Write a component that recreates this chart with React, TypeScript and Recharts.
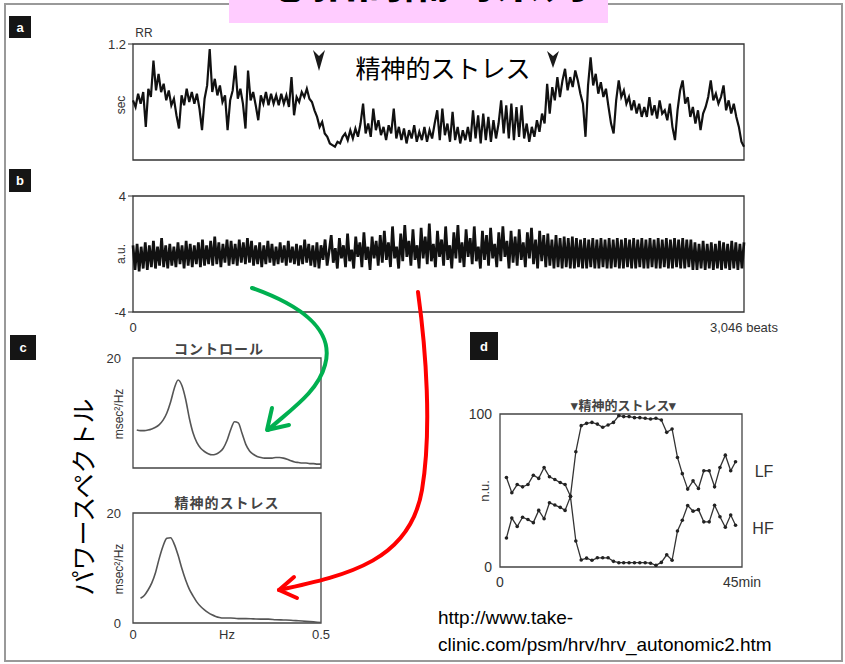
import React from 'react';
import { LineChart, Line, XAxis, YAxis, ReferenceArea } from 'recharts';

// ---- Panel a: RR interval (sec), 3,046 beats, sampled ----
const rrValues = [
  0.86,0.82,0.90,0.84,0.91,0.70,0.93,0.88,1.10,0.92,
  1.02,0.91,0.96,0.86,0.92,0.83,0.87,0.77,0.69,0.89,
  0.83,0.93,0.85,0.91,0.84,0.90,0.81,0.68,0.87,0.95,
  1.17,0.91,0.99,0.89,0.95,0.85,0.89,0.68,0.86,0.92,
  1.07,0.87,0.93,0.84,0.69,1.04,0.86,0.91,0.83,0.74,
  0.89,0.84,0.91,0.83,0.90,0.84,0.89,0.83,0.90,0.84,
  0.89,0.82,1.00,0.77,0.88,0.85,0.91,0.88,0.93,0.87,
  0.85,0.80,0.76,0.70,0.73,0.66,0.64,0.60,0.59,0.58,
  0.61,0.60,0.64,0.66,0.62,0.68,0.63,0.69,0.64,0.72,
  0.84,0.66,0.72,0.64,0.81,0.68,0.74,0.65,0.70,0.62,
  0.71,0.66,0.81,0.63,0.70,0.62,0.69,0.60,0.68,0.63,
  0.71,0.61,0.67,0.62,0.70,0.61,0.68,0.63,0.72,0.80,
  0.62,0.81,0.65,0.72,0.61,0.79,0.62,0.70,0.60,0.68,
  0.62,0.70,0.61,0.80,0.63,0.77,0.60,0.78,0.62,0.76,
  0.61,0.74,0.63,0.72,0.86,0.66,0.83,0.63,0.84,0.62,
  0.82,0.64,0.83,0.63,0.72,0.61,0.70,0.64,0.74,0.67,
  0.78,0.72,0.96,0.78,0.94,0.86,1.00,0.88,0.98,1.05,
  0.92,1.00,0.94,1.04,0.98,0.90,0.84,0.64,0.95,1.12,
  0.95,1.02,0.90,0.97,0.88,0.93,0.82,0.72,0.66,0.86,
  0.98,0.88,0.92,0.84,0.88,0.80,0.86,0.78,0.84,0.76,
  0.82,0.76,0.88,0.77,0.83,0.75,0.86,0.78,0.80,0.74,
  0.84,0.70,0.62,0.80,0.92,0.98,0.84,0.88,0.76,0.82,
  0.72,0.80,0.68,0.78,0.82,0.88,0.98,0.86,0.90,0.84,
  0.88,0.95,0.80,0.86,0.78,0.84,0.76,0.70,0.61,0.58,
];
const rrTicks = [0.5, 1.2];

// ---- Panel b: band-passed component (a.u.) ----
const bandValues = [
  0.6,-1.1,0.7,-1.2,0.5,-1.0,0.8,-1.1,0.6,-0.9,
  0.9,-1.0,0.5,-0.8,1.1,-0.9,0.6,-1.0,0.7,-0.8,
  0.5,-0.9,0.8,-0.7,0.6,-1.0,0.9,-0.8,0.7,-0.9,
  0.6,-0.7,0.8,-0.9,1.0,-0.8,0.6,-0.7,0.9,-0.8,
  1.2,-0.7,0.8,-0.9,0.7,-0.6,1.0,-0.8,0.9,-0.7,
  0.7,-0.8,1.0,-0.6,0.8,-0.7,1.1,-0.6,0.9,-0.8,
  0.6,-0.7,0.8,-0.9,0.6,-0.7,0.9,-0.6,0.7,-0.8,
  0.5,-0.7,0.8,-0.6,0.6,-0.8,0.9,-0.6,0.5,-0.7,
  0.7,-0.8,0.6,-0.7,1.0,-0.6,0.7,-0.8,0.6,-0.9,
  0.8,-1.0,0.6,
  -0.4,1.0,-0.8,0.2,1.3,-0.6,0.4,-1.0,1.1,-0.3,
  0.6,-0.9,1.4,-0.5,0.3,-1.0,1.2,-0.2,0.8,-0.9,
  1.5,-0.4,0.5,-1.1,1.2,-0.3,0.9,-0.8,1.3,
  -0.6,1.6,-0.4,0.8,-0.9,1.9,-0.3,0.5,-1.0,1.4,
  -0.5,2.0,-0.2,0.9,-0.8,1.7,-0.4,0.6,-1.0,1.8,
  -0.3,1.2,-0.7,2.1,-0.5,0.7,-0.9,1.6,-0.2,1.0,
  -0.8,1.9,-0.4,0.6,-1.0,1.5,-0.3,2.0,-0.6,0.8,
  -0.9,1.7,-0.2,1.1,-0.7,1.9,-0.5,0.5,-1.0,1.6,
  -0.4,1.3,-0.8,1.8,-0.3,0.7,-0.9,1.5,-0.5,1.9,
  -0.2,0.9,-1.0,1.6,-0.6,1.2,-0.8,1.7,-0.4,0.8,
  -0.9,1.5,-0.3,1.8,-0.7,1.0,-1.0,1.6,-0.5,1.3,-0.9,
  1.4,-0.8,1.0,-1.0,1.3,-0.9,1.1,-1.0,1.2,-0.9,1.1,-1.0,1.2,
  -1.0,1.1,-0.9,1.0,-1.0,1.1,-1.0,1.0,-0.9,1.1,
  -1.0,1.0,-1.0,1.1,-0.9,1.0,-1.0,1.1,-1.0,1.0,
  -0.9,1.1,-1.0,1.0,-1.0,1.1,-0.9,1.0,-1.0,1.1,
  -1.0,1.0,-0.9,1.1,-1.0,1.0,-1.0,1.1,-0.9,1.0,
  -1.0,1.1,-1.0,1.0,-0.9,1.1,-1.0,1.0,-1.0,1.1,
  -0.9,1.0,-1.0,1.1,-1.0,1.0,-0.9,1.0,-1.1,
  0.8,-1.1,0.7,-1.0,0.9,-1.1,0.7,-1.0,0.8,-1.1,
  0.7,-1.0,0.9,-1.1,0.8,-1.0,0.7,-1.1,0.9,-1.0,
  0.8,-1.1,0.7,-1.0,0.8,
];
const bandTicks = [-4, 4];
const beatsLabels = ['0', '3,046 beats'];

// ---- Panel c: power spectra ----
const controlHz = [
  0.01,0.02,0.03,0.04,0.05,0.06,0.07,0.08,0.09,0.10,
  0.11,0.12,0.13,0.14,0.15,0.16,0.17,0.18,0.19,0.20,
  0.21,0.22,0.23,0.24,0.25,0.26,0.27,0.28,0.29,0.30,
  0.31,0.32,0.33,0.34,0.35,0.36,0.37,0.38,0.39,0.40,
  0.41,0.42,0.43,0.44,0.45,0.46,0.47,0.48,0.49,0.50,
];
const controlPower = [
  6.9,6.8,6.8,6.9,7.1,7.4,7.9,8.7,10.0,12.0,
  14.5,16.0,15.0,12.5,9.0,6.3,4.6,3.6,3.0,2.6,
  2.4,2.5,2.9,3.6,5.0,7.0,8.4,8.2,6.3,4.3,
  3.1,2.5,2.1,1.9,1.8,1.8,1.8,1.9,1.9,1.8,
  1.6,1.3,1.1,1.0,0.9,0.9,0.8,0.8,0.7,0.7,
];
const stressHz = [
  0.02,0.03,0.04,0.05,0.06,0.07,0.08,0.09,0.10,0.11,
  0.12,0.13,0.14,0.15,0.16,0.17,0.18,0.19,0.20,0.21,
  0.22,0.23,0.24,0.25,0.26,0.28,0.30,0.32,0.34,0.36,
  0.38,0.40,0.42,0.44,0.46,0.48,0.50,
];
const stressPower = [
  4.5,5.0,6.0,7.3,9.2,11.8,14.0,15.4,15.5,14.3,
  12.3,9.9,7.8,6.1,4.9,3.8,3.0,2.4,1.9,1.5,
  1.2,1.0,0.9,0.9,0.9,0.8,0.8,0.75,0.7,0.7,
  0.6,0.55,0.5,0.4,0.3,0.2,0.1,
];
const spectrumYTicks = [0, 20];
const spectrumXTicks = [0, 0.25, 0.5];
const spectrumXLabels = ['0', 'Hz', '0.5'];

// ---- Panel d: LF / HF normalized units over 45 min ----
const ratioMinutes = [
  1.2,2.2,3.2,4.2,5.2,6.2,7.2,8.2,9.2,10.2,
  11.2,12.1,13.1,14.1,15.1,16.1,17.1,18.1,19.1,20.1,
  21.1,22.1,23.0,24.0,25.0,26.0,27.0,28.0,29.0,30.0,
  31.0,32.0,33.0,33.9,34.9,35.9,36.9,37.9,38.9,39.9,
  40.9,41.9,42.9,43.8,
];
const lfValues = [
  58.5,48.5,53.9,52.4,53.9,60.0,57.9,65.0,59.0,57.2,
  55.2,53.9,46.3,75.3,92.4,93.9,94.5,93.4,91.3,92.8,
  94.5,98.9,98.3,98.3,97.6,97.6,97.2,96.7,97.2,96.1,
  88.0,90.2,71.6,61.0,50.9,56.3,51.3,62.9,62.9,52.4,
  65.0,73.1,62.9,68.8,
];
const hfValues = [
  19.0,32.0,26.5,32.5,31.0,29.0,37.0,31.5,42.0,40.5,
  39.0,37.0,46.0,17.0,4.6,5.8,4.4,6.0,6.0,6.0,
  3.7,2.8,2.8,2.8,2.8,2.8,2.8,2.5,1.1,3.0,
  8.0,4.4,23.5,30.6,40.2,36.5,37.5,29.5,29.5,40.4,
  32.8,26.0,34.0,27.3,
];
const ratioYTicks = [0, 100];
const ratioXTicks = [0, 45];
const ratioXLabels = ['0', '45min'];

const FONT = '"Liberation Sans", Arial, sans-serif';
const JP = '"Noto Sans CJK JP", "Noto Sans", sans-serif';
const AX = '#333';

const rrData = rrValues.map((v, i) => ({ i, v }));
const bandData = bandValues.map((v, i) => ({ i, v }));
const controlData = controlHz.map((f, k) => ({ f, p: controlPower[k] }));
const stressData = stressHz.map((f, k) => ({ f, p: stressPower[k] }));
const ratioData = ratioMinutes.map((t, k) => ({ t, lf: lfValues[k], hf: hfValues[k] }));

const tickStyle = { fill: '#333', fontSize: 13, fontFamily: FONT };

function Txt({ x, y, children, size = 12, rotate = 0, color = '#333', family = FONT, weight = 400, spacing = 0 }: any) {
  return (
    <div
      style={{
        position: 'absolute', left: x, top: y, transform: `translate(-50%, -50%) rotate(${rotate}deg)`,
        fontSize: size, color, fontFamily: family, fontWeight: weight, whiteSpace: 'nowrap',
        lineHeight: 1, letterSpacing: spacing,
      }}
    >
      {children}
    </div>
  );
}

function Badge({ x, y, w, h, letter }: any) {
  return (
    <div style={{ position: 'absolute', left: x, top: y, width: w, height: h, background: '#151515', color: '#fff',
      fontFamily: FONT, fontWeight: 700, fontSize: 13, display: 'flex', alignItems: 'center', justifyContent: 'center' }}>
      {letter}
    </div>
  );
}

function Place({ left, top, children }: any) {
  return <div style={{ position: 'absolute', left, top }}>{children}</div>;
}

export default function App() {
  const nA = rrValues.length - 1;
  const nB = bandValues.length - 1;
  return (
    <div style={{ position: 'absolute', left: 0, top: 0, width: 845, height: 664, background: '#fff', overflow: 'hidden' }}>
      {/* outer frame */}
      <div style={{ position: 'absolute', left: 4, top: 3, width: 839, height: 659, border: '2px solid #999', boxSizing: 'border-box' }} />
      {/* pink title box, text cut off at top as in the source slide */}
      <div style={{ position: 'absolute', left: 229, top: 0, width: 379, height: 23, background: '#FFCCFF', overflow: 'hidden' }}>
        <div style={{ position: 'absolute', left: 8, width: 379, top: -46, textAlign: 'center', fontFamily: JP, fontWeight: 700, fontSize: 46, lineHeight: 1, color: '#000' }}>
          心拍間隔時系列
        </div>
      </div>

      <Badge x={9} y={16} w={22} h={22} letter="a" />
      <Badge x={9} y={169} w={22} h={23} letter="b" />
      <Badge x={10} y={335} w={26} h={25} letter="c" />
      <Badge x={470} y={332} w={28} h={28} letter="d" />

      {/* Panel a */}
      <Place left={93} top={34}>
        <LineChart width={661} height={131} data={rrData} margin={{ top: 10, right: 10, bottom: 5, left: 0 }}>
          <XAxis dataKey="i" type="number" domain={[0, nA]} hide />
          <YAxis type="number" domain={[0.5, 1.2]} ticks={rrTicks} width={40} axisLine={false}
            tickSize={5} tickLine={{ stroke: AX }} tick={tickStyle} tickFormatter={(v: number) => v.toFixed(1)} allowDataOverflow />
          <ReferenceArea x1={0} x2={nA} y1={0.5} y2={1.2} fill="none" stroke={AX} strokeWidth={1.3} ifOverflow="visible" />
          <Line dataKey="v" type="linear" stroke="#111" strokeWidth={2.2} dot={false} isAnimationActive={false} />
        </LineChart>
      </Place>

      {/* Panel b */}
      <Place left={93} top={186}>
        <LineChart width={706} height={156} data={bandData} margin={{ top: 10, right: 55, bottom: 0, left: 0 }}>
          <XAxis dataKey="i" type="number" domain={[0, nB]} ticks={[0, nB]} height={30} axisLine={false}
            tickLine={false} tickSize={8} tickMargin={3} tick={tickStyle}
            tickFormatter={(v: number) => (v === 0 ? beatsLabels[0] : beatsLabels[1])} />
          <YAxis type="number" domain={[-4, 4]} ticks={bandTicks} width={40} axisLine={false}
            tickSize={5} tickLine={{ stroke: AX }} tick={tickStyle} allowDataOverflow />
          <ReferenceArea x1={0} x2={nB} y1={-4} y2={4} fill="none" stroke={AX} strokeWidth={1.3} ifOverflow="visible" />
          <Line dataKey="v" type="linear" stroke="#111" strokeWidth={2.7} dot={false} isAnimationActive={false} />
        </LineChart>
      </Place>

      {/* Panel c top */}
      <Place left={93} top={348}>
        <LineChart width={248} height={125} data={controlData} margin={{ top: 10, right: 20, bottom: 5, left: 0 }}>
          <XAxis dataKey="f" type="number" domain={[0, 0.5]} hide />
          <YAxis type="number" domain={[0, 20]} ticks={spectrumYTicks} width={40} axisLine={false}
            tickLine={false} tickSize={0} tickMargin={12} tick={tickStyle} allowDataOverflow />
          <ReferenceArea x1={0} x2={0.5} y1={0} y2={20} fill="none" stroke="#444" strokeWidth={1.3} ifOverflow="visible" />
          <Line dataKey="p" type="monotone" stroke="#555" strokeWidth={1.6} dot={false} isAnimationActive={false} />
        </LineChart>
      </Place>

      {/* Panel c bottom */}
      <Place left={93} top={503}>
        <LineChart width={248} height={145} data={stressData} margin={{ top: 10, right: 20, bottom: 0, left: 0 }}>
          <XAxis dataKey="f" type="number" domain={[0, 0.5]} ticks={spectrumXTicks} height={25} axisLine={false}
            tickLine={false} tickSize={0} tickMargin={7} tick={tickStyle}
            tickFormatter={(v: number) => spectrumXLabels[spectrumXTicks.indexOf(v)]} />
          <YAxis type="number" domain={[0, 20]} ticks={spectrumYTicks} width={40} axisLine={false}
            tickLine={false} tickSize={0} tickMargin={12} tick={tickStyle} allowDataOverflow />
          <ReferenceArea x1={0} x2={0.5} y1={0} y2={20} fill="none" stroke="#444" strokeWidth={1.3} ifOverflow="visible" />
          <Line dataKey="p" type="monotone" stroke="#555" strokeWidth={1.6} dot={false} isAnimationActive={false} />
        </LineChart>
      </Place>

      {/* Panel d */}
      <Place left={460} top={404}>
        <LineChart width={307} height={188} data={ratioData} margin={{ top: 10, right: 25, bottom: 0, left: 0 }}>
          <XAxis dataKey="t" type="number" domain={[0, 45]} ticks={ratioXTicks} height={25} axisLine={false}
            tickLine={false} tickSize={0} tickMargin={10} tick={{ ...tickStyle, fontSize: 14 }}
            tickFormatter={(v: number) => ratioXLabels[ratioXTicks.indexOf(v)]} />
          <YAxis type="number" domain={[0, 100]} ticks={ratioYTicks} width={40} axisLine={false}
            tickLine={false} tickSize={0} tickMargin={8} tick={{ ...tickStyle, fontSize: 14 }} allowDataOverflow />
          <ReferenceArea x1={0} x2={45} y1={0} y2={100} fill="none" stroke="#444" strokeWidth={1.3} ifOverflow="visible" />
          <Line dataKey="lf" type="linear" stroke="#333" strokeWidth={1.3} dot={{ r: 1.8, fill: '#222', stroke: 'none' }} isAnimationActive={false} />
          <Line dataKey="hf" type="linear" stroke="#333" strokeWidth={1.3} dot={{ r: 1.8, fill: '#222', stroke: 'none' }} isAnimationActive={false} />
        </LineChart>
      </Place>

      {/* texts */}
      <Txt x={144} y={33} size={12}>RR</Txt>
      <Txt x={121} y={105} size={12} rotate={-90}>sec</Txt>
      <Txt x={443} y={67} size={25} color="#000" family={JP}>精神的ストレス</Txt>
      <Txt x={121} y={254} size={12} rotate={-90}>a.u.</Txt>
      <Txt x={219} y={348} size={14} color="#444" family={JP} weight={700} spacing={1}>コントロール</Txt>
      <Txt x={119} y={414} size={12} rotate={-90}>msec²/Hz</Txt>
      <Txt x={227} y={502} size={14} color="#444" family={JP} weight={700} spacing={1}>精神的ストレス</Txt>
      <Txt x={119} y={569} size={12} rotate={-90}>msec²/Hz</Txt>
      <Txt x={82} y={497} size={25} color="#000" family={JP} rotate={-90}>パワースペクトル</Txt>
      <Txt x={624} y={404} size={13} color="#444" family={JP} weight={700}>▾精神的ストレス▾</Txt>
      <Txt x={484} y={491} size={13} rotate={-90}>n.u.</Txt>
      <Txt x={764} y={472} size={16}>LF</Txt>
      <Txt x={763} y={529} size={16}>HF</Txt>
      <div style={{ position: 'absolute', left: 438, top: 604, fontFamily: FONT, fontSize: 19, lineHeight: '27px', color: '#000', whiteSpace: 'nowrap' }}>
        http://www.take-<br />clinic.com/psm/hrv/hrv_autonomic2.htm
      </div>

      {/* annotation arrows */}
      <svg width={845} height={664} style={{ position: 'absolute', left: 0, top: 0, pointerEvents: 'none' }}>
        <path d="M313 50 L319 71 L325 50 L319 56 Z" fill="#1a1a1a" />
        <path d="M547 51 L553 68 L559 51 L553 56 Z" fill="#1a1a1a" />
        <g fill="none" stroke="#00B050" strokeWidth={4} strokeLinecap="round" strokeLinejoin="round">
          <path d="M252 288 C300 305 335 330 325 365 C318 392 290 410 268 430" />
          <path d="M272 408 L267 430 L289 425" />
        </g>
        <g fill="none" stroke="#FF0000" strokeWidth={4} strokeLinecap="round" strokeLinejoin="round">
          <path d="M418 292 C426 350 432 430 422 490 C410 560 350 575 279 590" />
          <path d="M294 577 L279 590 L297 598" />
        </g>
      </svg>
    </div>
  );
}
